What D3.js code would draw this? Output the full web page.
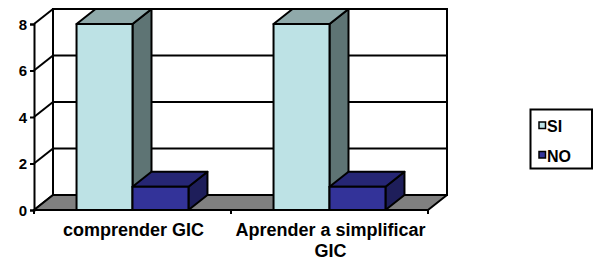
<!DOCTYPE html>
<html><head><meta charset="utf-8">
<script src="https://cdn.jsdelivr.net/npm/d3@7"></script>
<style>body{margin:0;background:#fff;}svg{display:block;font-family:"Liberation Sans",Arial,sans-serif;}</style>
</head><body>
<svg id="c" width="596" height="261"></svg>
<script>
const categories = [["comprender GIC"], ["Aprender a simplificar", "GIC"]];
const categoryKeys = ["comprender GIC", "Aprender a simplificar GIC"];
const seriesNames = ["SI", "NO"];
const siValues = [8, 8];
const noValues = [1, 1];
const yTicks = [0, 2, 4, 6, 8];

const svg = d3.select("#c");
const DX = 19, DY = -15, SW = 2;
const x0 = d3.scaleBand().domain(categoryKeys).range([34, 428]).padding(0);
const x1 = d3.scaleBand().domain(seriesNames).range([0, x0.bandwidth()]).paddingInner(0).paddingOuter(0.76);
const y = d3.scaleLinear().domain([0, 8]).range([210, 24]);
const colors = {
  SI: {front: "#bde2e5", top: "#8fa9aa", side: "#5e7474"},
  NO: {front: "#333399", top: "#262674", side: "#1e1e5a"}
};
const L = x0.range()[0], R = x0.range()[1];

// back wall
svg.append("rect").attr("x", L + DX).attr("y", y(8) + DY).attr("width", R - L).attr("height", y(0) - y(8))
  .attr("fill", "#fff").attr("stroke", "#000").attr("stroke-width", SW);
// gridlines on back wall + side wall
yTicks.forEach(t => {
  svg.append("line").attr("x1", L + DX).attr("x2", R + DX).attr("y1", y(t) + DY).attr("y2", y(t) + DY)
    .attr("stroke", "#000").attr("stroke-width", SW);
  svg.append("line").attr("x1", L).attr("x2", L + DX).attr("y1", y(t)).attr("y2", y(t) + DY)
    .attr("stroke", "#000").attr("stroke-width", SW);
});
// floor
svg.append("path").attr("d", `M${L},${y(0)}L${R},${y(0)}L${R + DX},${y(0) + DY}L${L + DX},${y(0) + DY}Z`)
  .attr("fill", "#808080").attr("stroke", "#000").attr("stroke-width", SW).attr("stroke-linejoin", "round");

// front y axis
const yAxis = d3.axisLeft(y).tickValues(yTicks).tickSize(4).tickPadding(3).tickFormat(d3.format("d"));
const ga = svg.append("g").attr("transform", `translate(${L},0)`).call(yAxis);
ga.select(".domain").attr("stroke-width", SW);
ga.selectAll(".tick line").attr("stroke-width", SW);
ga.selectAll("text").attr("font-size", 15).attr("font-weight", "bold").attr("fill", "#000")
  .attr("font-family", "'Liberation Sans',Arial,sans-serif").attr("dy", "0.36em");

// category axis ticks
const catTicks = [L, ...categoryKeys.map(c => x0(c) + x0.bandwidth())];
catTicks.forEach(xt => {
  svg.append("line").attr("x1", xt).attr("x2", xt).attr("y1", y(0)).attr("y2", y(0) + 4)
    .attr("stroke", "#000").attr("stroke-width", SW);
});
svg.append("line").attr("x1", L).attr("x2", R).attr("y1", y(0)).attr("y2", y(0)).attr("stroke", "#000").attr("stroke-width", SW);

// bars
const data = [];
categoryKeys.forEach((c, i) => {
  data.push({cat: c, s: "SI", v: siValues[i]});
  data.push({cat: c, s: "NO", v: noValues[i]});
});
data.forEach(d => {
  const xa = x0(d.cat) + x1(d.s), xb = xa + x1.bandwidth();
  const yt = y(d.v), yb = y(0);
  const g = svg.append("g").attr("stroke", "#000").attr("stroke-width", SW).attr("stroke-linejoin", "round");
  g.append("path").attr("d", `M${xb},${yt}L${xb + DX},${yt + DY}L${xb + DX},${yb + DY}L${xb},${yb}Z`).attr("fill", colors[d.s].side);
  g.append("path").attr("d", `M${xa},${yt}L${xa + DX},${yt + DY}L${xb + DX},${yt + DY}L${xb},${yt}Z`).attr("fill", colors[d.s].top);
  g.append("rect").attr("x", xa).attr("y", yt).attr("width", xb - xa).attr("height", yb - yt).attr("fill", colors[d.s].front);
});

// category labels
categories.forEach((lines, i) => {
  const cx = x0(categoryKeys[i]) + x0.bandwidth() / 2;
  lines.forEach((ln, j) => {
    svg.append("text").attr("x", cx + 1).attr("y", 236 + j * 21).attr("text-anchor", "middle")
      .attr("font-size", 18).attr("font-weight", "bold").attr("fill", "#000").text(ln);
  });
});

// legend
svg.append("rect").attr("x", 530.5).attr("y", 109.5).attr("width", 61.5).attr("height", 59)
  .attr("fill", "#fff").attr("stroke", "#000").attr("stroke-width", SW);
seriesNames.forEach((s, i) => {
  const yy = 125.5 + i * 29.5;
  svg.append("rect").attr("x", 539).attr("y", yy - 3.5).attr("width", 6.5).attr("height", 6.5)
    .attr("fill", colors[s].front).attr("stroke", "#000").attr("stroke-width", 1.5);
  svg.append("text").attr("x", 547).attr("y", yy + 6.5).attr("font-size", 16).attr("font-weight", "bold").attr("fill", "#000").text(s);
});
</script>
</body></html>
